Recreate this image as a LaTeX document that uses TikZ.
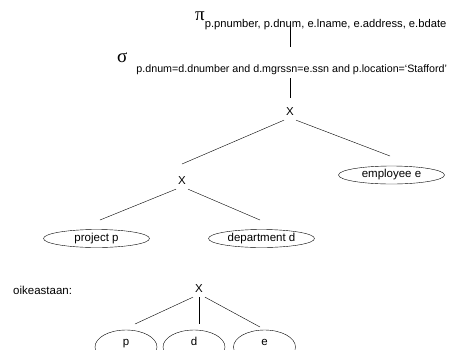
\documentclass[tikz,border=0pt]{standalone}
\usepackage{fontspec}
\setmainfont{Liberation Sans}
\newfontfamily\greekfont{Liberation Serif}
\usepackage{tikz}
\usetikzlibrary{shapes.geometric}

\newcommand{\opfont}{\greekfont\fontsize{19}{19}\selectfont}
\newcommand{\subfont}[1]{\fontsize{#1}{13}\selectfont}

\begin{document}
\begin{tikzpicture}[x=1pt, y=-1pt, every node/.style={font=\fontsize{11.5}{13}\selectfont},
    joinop/.style={inner xsep=2pt, inner ysep=4pt},
    rel/.style={ellipse, draw, thin, inner sep=0pt, minimum width=106pt, minimum height=18pt},
    small rel/.style={ellipse, draw, thin, inner sep=0pt, minimum width=62pt, minimum height=34pt,
        text height=2pt, text depth=6pt}]
    \useasboundingbox (0,0) rectangle (463,349);
    % Projection and selection
    \node[anchor=base west, inner sep=0pt] (proj) at (195,20) {{\opfont π}\raisebox{-7pt}{\subfont{11.2}p.pnumber, p.dnum, e.lname, e.address, e.bdate}};
    \node[anchor=base west, inner sep=0pt] (sel) at (117,62) {{\opfont σ}\hspace{9pt}\raisebox{-10pt}{\subfont{10.7}p.dnum=d.dnumber and d.mgrssn=e.ssn and p.location=‘Stafford’}};
    % Joins
    \node[joinop] (x1) at (290,112) {X};
    \node[joinop] (x2) at (182,181) {X};
    \node[joinop] (x3) at (199,289) {X};
    % Relations
    \node[rel] (emp) at (391.5,175) {employee e};
    \node[rel] (prj) at (96.5,238.5) {project p};
    \node[rel] (dep) at (261.5,238.5) {department d};
    % Alternative tree
    \node[anchor=west, inner sep=0pt] (alt) at (13,290) {oikeastaan:};
    \node[small rel] (p) at (126,347) {p};
    \node[small rel] (d) at (194,347) {d};
    \node[small rel] (e) at (264.5,347) {e};
    % Free line ends
    \coordinate (projend) at (290,25);
    \coordinate (seltop) at (290,47);
    \coordinate (selend) at (290,78);
    \coordinate (x2top) at (182,164);
    \coordinate (emptop) at (390,156);
    \coordinate (prjtop) at (100,220);
    \coordinate (deptop) at (260,220);
    \coordinate (ptop) at (135,324);
    \coordinate (dtop) at (199,324);
    \coordinate (etop) at (260,327);
    % Edges
    \draw (projend) -- (seltop);
    \draw[shorten >=6pt] (selend) -- (x1);
    \draw (x1.south west) -- (x2top);
    \draw (x1.south east) -- (emptop);
    \draw (x2.south west) -- (prjtop);
    \draw (x2.south east) -- (deptop);
    \draw (x3.south west) -- (ptop);
    \draw (x3.south) -- (dtop);
    \draw (x3.south east) -- (etop);
\end{tikzpicture}
\end{document}
